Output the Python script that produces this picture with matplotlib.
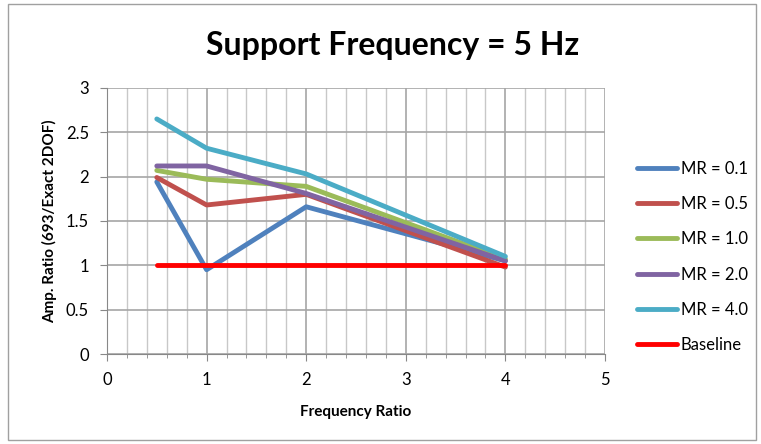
import numpy as np
import matplotlib.pyplot as plt
from matplotlib.patches import Rectangle
from matplotlib.ticker import MultipleLocator, FormatStrFormatter

# rapporti di frequenza
freq_ratio = [0.5, 1, 2, 4]

# rapporti di ampiezza
mr_01 = [1.94, 0.95, 1.66, 1.05]
mr_05 = [1.99, 1.68, 1.80, 0.98]
mr_10 = [2.07, 1.97, 1.89, 1.07]
mr_20 = [2.12, 2.12, 1.81, 1.05]
mr_40 = [2.65, 2.32, 2.03, 1.10]
baseline_x = [0.5, 4]
baseline_y = [1, 1]

etichette = ['MR = 0.1', 'MR = 0.5', 'MR = 1.0', 'MR = 2.0', 'MR = 4.0', 'Baseline']
colori = ['#4F81BD', '#C0504D', '#9BBB59', '#8064A2', '#4BACC6', '#FF0000']

plt.rcParams['font.family'] = ['Lato', 'DejaVu Sans']

fig = plt.figure(figsize=(7.61, 4.44), dpi=100)
# bordo esterno del grafico
fig.patches.append(Rectangle((0.010, 0.008), 0.984, 0.982, transform=fig.transFigure,
                             fill=False, edgecolor='#A0A0A0', linewidth=1))

ax = fig.add_axes([0.1406, 0.2027, 0.6544, 0.5993])

serie = [mr_01, mr_05, mr_10, mr_20, mr_40]
for valori, etichetta, colore in zip(serie, etichette[:5], colori[:5]):
    ax.plot(freq_ratio, valori, color=colore, linewidth=3.5, label=etichetta,
            solid_capstyle='round')
ax.plot(baseline_x, baseline_y, color=colori[5], linewidth=3.5, label=etichette[5],
        solid_capstyle='round')

ax.set_xlim(0, 5)
ax.set_ylim(0, 3)
ax.xaxis.set_major_locator(MultipleLocator(1))
ax.xaxis.set_minor_locator(MultipleLocator(0.2))
ax.yaxis.set_major_locator(MultipleLocator(0.5))
ax.yaxis.set_major_formatter(FormatStrFormatter('%g'))
ax.grid(True, which='major', color='#A6A6A6', linewidth=1.2)
ax.grid(True, which='minor', axis='x', color='#C8C8C8', linewidth=1)
ax.set_axisbelow(True)
for lato in ['top', 'right']:
    ax.spines[lato].set_visible(False)
for lato in ['left', 'bottom']:
    ax.spines[lato].set_color('#888888')
ax.tick_params(axis='both', which='major', labelsize=12, length=5, color='#888888',
               direction='out', pad=8)
ax.tick_params(axis='x', which='minor', length=3, color='#888888')

ax.set_xlabel('Frequency Ratio', fontsize=11, fontweight='bold', labelpad=12)
ax.set_ylabel('Amp. Ratio (693/Exact 2DOF)', fontsize=11, fontweight='bold', labelpad=6)
fig.text(0.516, 0.898, 'Support Frequency = 5 Hz', ha='center', va='center',
         fontsize=23, fontweight='bold')

fig.legend(loc='upper left', bbox_to_anchor=(0.818, 0.672), frameon=False, fontsize=12,
           handlelength=2.4, labelspacing=1.16, handletextpad=0.2)

plt.savefig('out.png', dpi=100)
